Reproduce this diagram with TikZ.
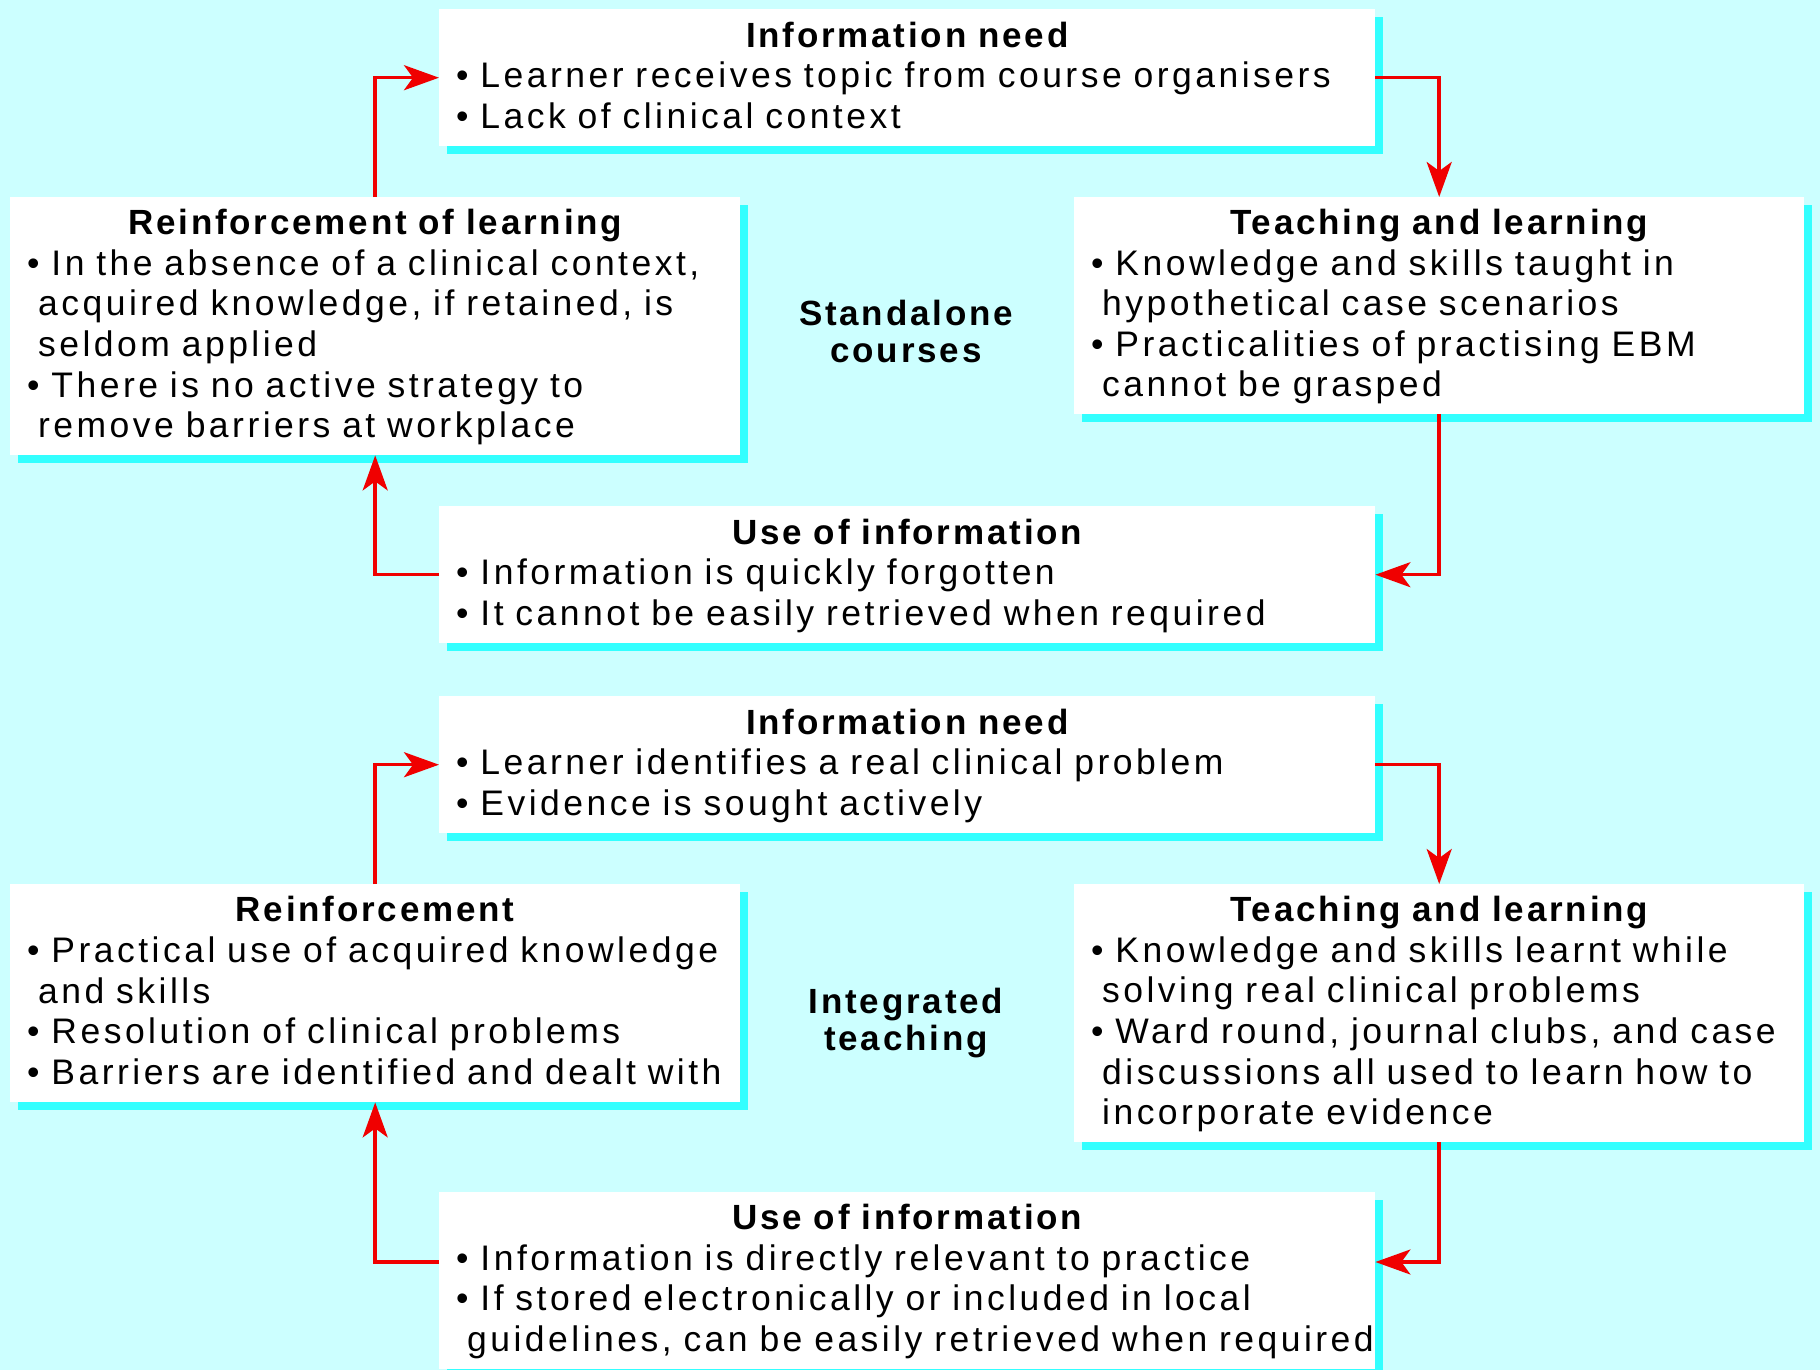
\documentclass[tikz,border=0pt]{standalone}
\usepackage{fontspec}
\setmainfont{Liberation Sans}[LetterSpace=9.8, BoldFeatures={LetterSpace=8}]
\usetikzlibrary{arrows.meta,shadows}
\definecolor{bgc}{RGB}{204,255,255}
\definecolor{shc}{RGB}{51,255,255}
\definecolor{arrred}{RGB}{240,0,0}
\setlength{\parindent}{0pt}
\newcommand{\bl}[1]{\mbox{\textbullet\ #1}}
\newcommand{\cl}[1]{\mbox{\hspace*{11pt}#1}}
\newcommand{\ttl}[1]{{\centering\bfseries\fontsize{35}{40.6}\selectfont\rule{0pt}{32pt}#1\par}}
\tikzset{
  box/.style={fill=white, anchor=north west, inner xsep=17pt, inner ysep=0pt,
    align=left, font=\fontsize{35.5}{40.6}\selectfont,
    drop shadow={shadow xshift=8pt, shadow yshift=-8pt, fill=shc, opacity=1}},
  lbl/.style={anchor=north, inner sep=0pt, align=center,
    font=\bfseries\fontsize{35}{37}\selectfont},
  arr/.style={draw=arrred, line width=3.5pt,
    -{Stealth[length=35pt,width=25pt,inset=9pt]}},
}
\begin{document}
\begin{tikzpicture}[x=1pt,y=-1pt]
\useasboundingbox (0,0) rectangle (1820,1370);
\fill[bgc] (0,0) rectangle (1820,1370);

% ---------- Standalone courses ----------
\node[box, minimum width=936pt, text width=902pt, minimum height=137pt] (in1) at (439,9)
 {\ttl{Information need}
  \bl{Learner receives topic from course organisers}\\
  \bl{Lack of clinical context}\strut};
\node[box, minimum width=730pt, text width=696pt, minimum height=217pt] (tl1) at (1074,197)
 {\ttl{Teaching and learning}
  \bl{Knowledge and skills taught in}\\
  \cl{hypothetical case scenarios}\\
  \bl{Practicalities of practising EBM}\\
  \cl{cannot be grasped}\strut};
\node[box, minimum width=730pt, text width=696pt, minimum height=258pt] (re1) at (10,197)
 {\ttl{Reinforcement of learning}
  \bl{In the absence of a clinical context,}\\
  \cl{acquired knowledge, if retained, is}\\
  \cl{seldom applied}\\
  \bl{There is no active strategy to}\\
  \cl{remove barriers at workplace}\strut};
\node[box, minimum width=936pt, text width=902pt, minimum height=137pt] (use1) at (439,506)
 {\ttl{Use of information}
  \bl{Information is quickly forgotten}\\
  \bl{It cannot be easily retrieved when required}\strut};
\node[lbl] (lab1) at (906,300) {Standalone\\courses};

\draw[arr] (in1.east) -| (tl1.north);
\draw[arr] (tl1.south) |- (use1.east);
\draw[arr] (use1.west) -| (re1.south);
\draw[arr] (re1.north) |- (in1.west);

% ---------- Integrated teaching ----------
\node[box, minimum width=936pt, text width=902pt, minimum height=137pt] (in2) at (439,696)
 {\ttl{Information need}
  \bl{Learner identifies a real clinical problem}\\
  \bl{Evidence is sought actively}\strut};
\node[box, minimum width=730pt, text width=696pt, minimum height=258pt] (tl2) at (1074,884)
 {\ttl{Teaching and learning}
  \bl{Knowledge and skills learnt while}\\
  \cl{solving real clinical problems}\\
  \bl{Ward round, journal clubs, and case}\\
  \cl{discussions all used to learn how to}\\
  \cl{incorporate evidence}\strut};
\node[box, minimum width=730pt, text width=696pt, minimum height=218pt] (re2) at (10,884)
 {\ttl{Reinforcement}
  \bl{Practical use of acquired knowledge}\\
  \cl{and skills}\\
  \bl{Resolution of clinical problems}\\
  \bl{Barriers are identified and dealt with}\strut};
\node[box, minimum width=936pt, text width=902pt, minimum height=177pt] (use2) at (439,1192)
 {\ttl{Use of information}
  \bl{Information is directly relevant to practice}\\
  \bl{If stored electronically or included in local}\\
  \cl{guidelines, can be easily retrieved when required}\strut};
\node[lbl] (lab2) at (906,988) {Integrated\\teaching};

\coordinate (u2e) at ([yshift=-70pt]use2.north east);
\coordinate (u2w) at ([yshift=-70pt]use2.north west);
\draw[arr] (in2.east) -| (tl2.north);
\draw[arr] (tl2.south) |- (u2e);
\draw[arr] (u2w) -| (re2.south);
\draw[arr] (re2.north) |- (in2.west);
\end{tikzpicture}
\end{document}
